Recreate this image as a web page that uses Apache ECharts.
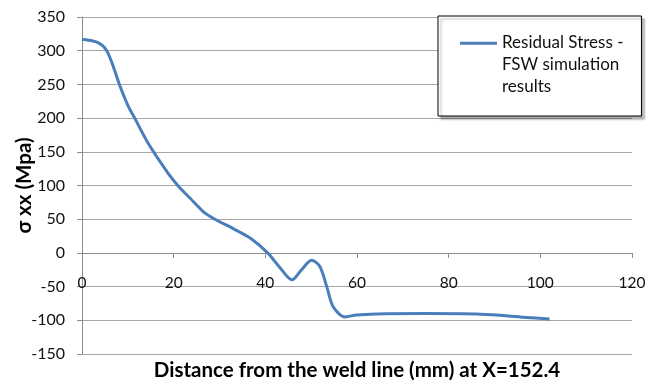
<!DOCTYPE html>
<html>
<head>
<meta charset="utf-8">
<script src="https://cdn.jsdelivr.net/npm/echarts@6/dist/echarts.min.js"></script>
<style>
  html, body { margin: 0; padding: 0; background: #fff; }
  #chart { width: 646px; height: 382px; }
</style>
</head>
<body>
<div id="chart"></div>
<script>
// distance from the weld line (mm)
const distance = [0, 3.5, 5.3, 6.8, 8.2, 10, 11.5, 14.4, 18.8, 20.9, 23.6, 26.5, 29, 33, 36.7, 40.5, 43.2, 45.8, 47.9, 50.1, 51.9, 53.4, 54.8, 57.4, 59.9, 64.3, 75, 86, 92, 97, 102];
// sigma xx (Mpa)
const stress = [317, 312, 301, 277, 249, 219, 200, 163, 118, 100, 81, 61, 50, 36, 22, 0, -22, -40, -25, -11, -20, -50, -80, -95, -92, -90.5, -90, -90.5, -93, -96, -98];

const seriesName = 'Residual Stress -\nFSW simulation\nresults';
const font = 'Lato, "Noto Sans", sans-serif';

const myChart = echarts.init(document.getElementById('chart'));

// 图例图标：线在上方，和第一行文字对齐
const legendIcon = 'path://M0,0L0.01,0M0,9.8L37,9.8L37,12.8L0,12.8ZM0,66L0.01,66';

const option = {
    animation: false,
    backgroundColor: '#fff',
    textStyle: { fontFamily: font },
    grid: { left: 82, right: 14, top: 17, bottom: 28, outerBoundsMode: 'none', containLabel: false },
    legend: {
        left: 438,
        top: 16,
        orient: 'vertical',
        padding: [16, 18, 18, 22],
        backgroundColor: '#fff',
        borderColor: '#000',
        borderWidth: 1,
        shadowColor: 'rgba(0,0,0,0.3)',
        shadowOffsetX: 3,
        shadowOffsetY: 3,
        shadowBlur: 2,
        icon: legendIcon,
        itemWidth: 37,
        itemHeight: 66,
        itemStyle: { borderWidth: 0 },
        textStyle: { fontSize: 17, lineHeight: 22, color: '#111', fontFamily: font },
        data: [seriesName]
    },
    xAxis: {
        type: 'value',
        min: 0,
        max: 120,
        interval: 20,
        position: 'bottom',
        // 轴线放在 y=0 处（网格底部往上 101px）
        offset: -101,
        name: 'Distance from the weld line (mm) at X=152.4',
        nameLocation: 'middle',
        nameGap: 107,
        nameMoveOverlap: false,
        nameTextStyle: { fontSize: 20.5, fontWeight: 'bold', color: '#000', fontFamily: font },
        axisLine: { onZero: false, lineStyle: { color: '#8c8c8c', width: 1 } },
        axisTick: { show: true, length: 5, lineStyle: { color: '#8c8c8c' } },
        axisLabel: { fontSize: 15.5, color: '#111', margin: 22 },
        splitLine: { show: false }
    },
    yAxis: {
        type: 'value',
        min: -150,
        max: 350,
        interval: 50,
        name: 'σ xx (Mpa)',
        nameLocation: 'middle',
        nameGap: 47,
        nameMoveOverlap: false,
        nameTextStyle: { fontSize: 20.5, fontWeight: 'bold', color: '#000', fontFamily: font },
        axisLine: { show: true, lineStyle: { color: '#8c8c8c', width: 1 } },
        axisTick: { show: true, length: 5, lineStyle: { color: '#8c8c8c' } },
        axisLabel: { fontSize: 16, color: '#111', margin: 17 },
        splitLine: { show: true, lineStyle: { color: '#a6a6a6', width: 1 } }
    },
    series: [
        {
            name: seriesName,
            type: 'line',
            smooth: 0.3,
            showSymbol: false,
            data: distance.map((x, i) => [x, stress[i]]),
            lineStyle: { color: '#4a7ebb', width: 3 },
            itemStyle: { color: '#4a7ebb' }
        }
    ]
};

myChart.setOption(option);
</script>
</body>
</html>
